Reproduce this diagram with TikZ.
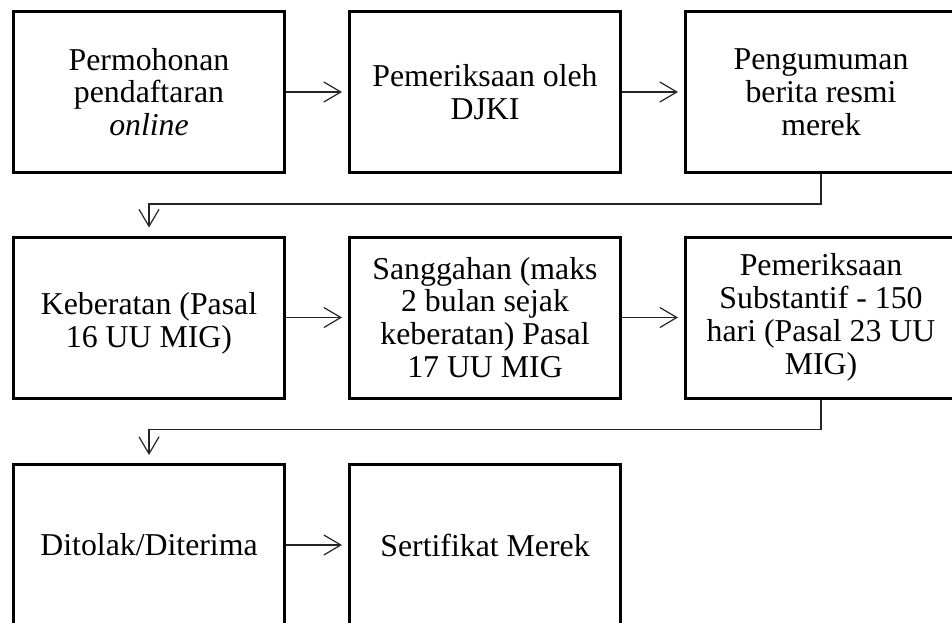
\documentclass[tikz,border=0pt]{standalone}
\usepackage{fontspec}
\setmainfont{Liberation Serif}
\usetikzlibrary{arrows.meta}
\begin{document}
\begin{tikzpicture}[x=1pt,y=-1pt,
  boxtext/.style={align=center,inner sep=0pt,font=\fontsize{31.8}{32.8}\selectfont},
  stepbox/.style={boxtext,draw=black,line width=3pt,minimum width=271pt,minimum height=161pt},
  arr/.style={draw=black!85,line width=1.2pt,-{Straight Barb[length=17pt,width=20pt,line width=1.2pt]}}]
\useasboundingbox (0,0) rectangle (952,623);
\clip (0,0) rectangle (952,623);
\fill[white] (0,0) rectangle (952,623);
% row 1
\node[stepbox] (r1a) at (149,92) {Permohonan\\pendaftaran\\\textit{online}};
\node[stepbox] (r1b) at (485,92) {Pemeriksaan oleh\\DJKI};
\node[stepbox] (r1c) at (821,92) {Pengumuman\\berita resmi\\merek};
% row 2
\node[stepbox] (r2a) at (149,317.5) {};
\node[boxtext] (r2atext) at ([yshift=-6pt]r2a.center) {Keberatan (Pasal\\16 UU MIG)};
\node[stepbox] (r2b) at (485,317.5) {Sanggahan (maks\\2 bulan sejak\\keberatan) Pasal\\17 UU MIG};
\node[stepbox] (r2c) at (821,317.5) {Pemeriksaan\\Substantif - 150\\hari (Pasal 23 UU\\MIG)};
% row 3
\node[stepbox] (r3a) at (149,545) {Ditolak/Diterima};
\node[stepbox] (r3b) at (485,545) {Sertifikat Merek};
% connectors
\draw[arr] (r1a.east) -- ([xshift=-6pt]r1b.west);
\draw[arr] (r1b.east) -- ([xshift=-6pt]r1c.west);
\draw[arr] (r1c.south) -- ([yshift=-30pt]r1c.south) -| ([yshift=8pt]r2a.north);
\draw[arr] (r2a.east) -- ([xshift=-6pt]r2b.west);
\draw[arr] (r2b.east) -- ([xshift=-6pt]r2c.west);
\draw[arr] (r2c.south) -- ([yshift=-30pt]r2c.south) -| ([yshift=8pt]r3a.north);
\draw[arr] (r3a.east) -- ([xshift=-6pt]r3b.west);
\end{tikzpicture}
\end{document}
